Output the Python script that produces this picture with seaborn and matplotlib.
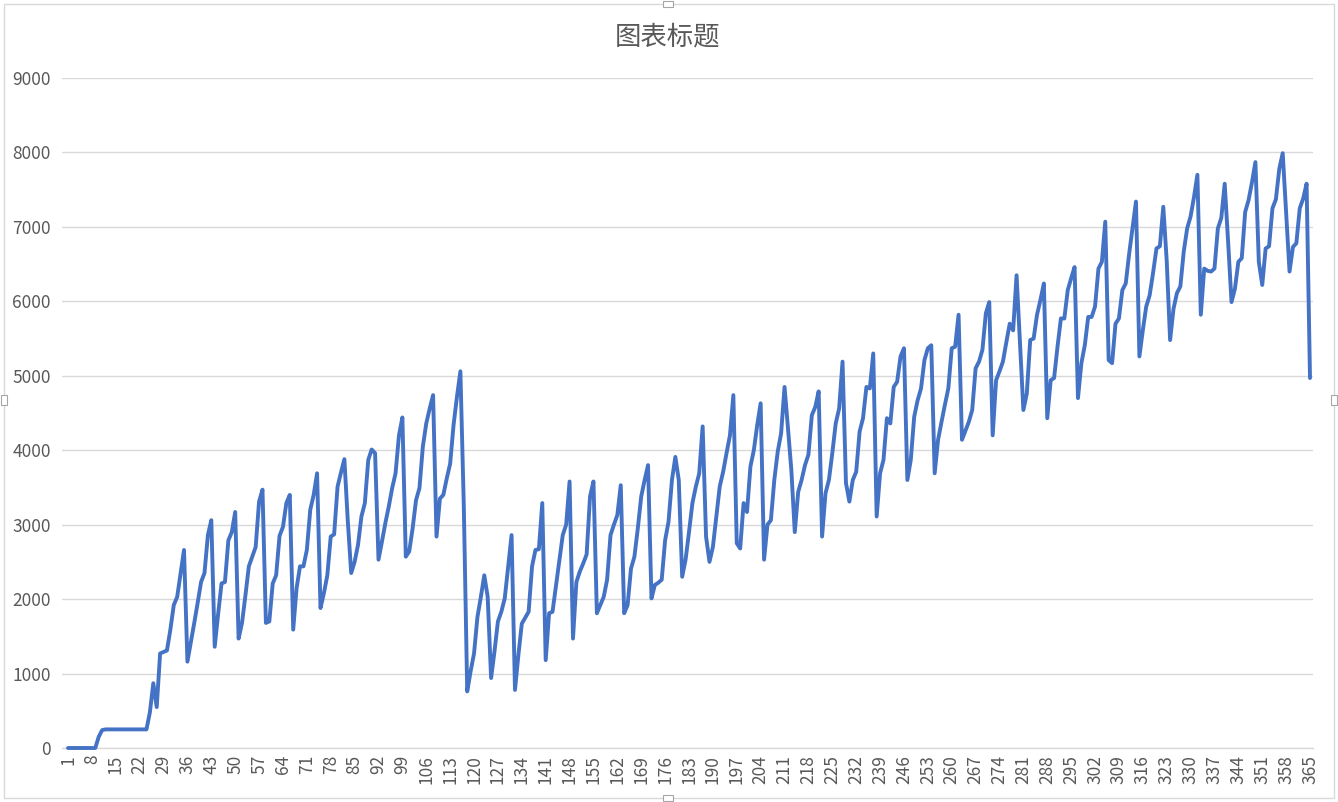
import numpy as np
import pandas as pd
import seaborn as sns
import matplotlib.pyplot as plt
from matplotlib.patches import Rectangle

sns.set_theme(style="white")
plt.rcParams['font.family'] = ['Noto Sans CJK SC', 'DejaVu Sans']

title_text = "图表标题"

values = [
    0, 0, 0, 0, 0, 0, 0, 0, 0, 150,
    240, 250, 250, 250, 250, 250, 250, 250, 250, 250,
    250, 250, 250, 250, 480, 870, 550, 1270, 1290, 1310,
    1590, 1920, 2030, 2350, 2660, 1160, 1420, 1680, 1950, 2230,
    2350, 2860, 3060, 1360, 1800, 2210, 2230, 2790, 2900, 3170,
    1470, 1680, 2050, 2440, 2570, 2700, 3310, 3470, 1680, 1700,
    2210, 2320, 2850, 2970, 3290, 3400, 1590, 2150, 2440, 2440,
    2660, 3200, 3400, 3690, 1880, 2080, 2320, 2840, 2870, 3510,
    3700, 3880, 3050, 2350, 2500, 2730, 3110, 3290, 3870, 4010,
    3960, 2530, 2770, 3020, 3240, 3490, 3690, 4200, 4440, 2570,
    2640, 2950, 3330, 3490, 4050, 4360, 4560, 4740, 2840, 3350,
    3400, 3620, 3820, 4340, 4720, 5060, 3250, 760, 1030, 1270,
    1760, 2030, 2320, 2030, 940, 1300, 1700, 1830, 2010, 2430,
    2860, 780, 1250, 1670, 1750, 1830, 2440, 2660, 2670, 3290,
    1180, 1810, 1830, 2170, 2500, 2860, 3000, 3580, 1470, 2230,
    2370, 2480, 2600, 3380, 3580, 1810, 1920, 2030, 2260, 2860,
    3000, 3130, 3530, 1810, 1920, 2410, 2570, 2950, 3380, 3600,
    3800, 2010, 2190, 2220, 2260, 2790, 3040, 3600, 3910, 3600,
    2300, 2530, 2900, 3290, 3510, 3690, 4320, 2840, 2500, 2700,
    3100, 3510, 3710, 3960, 4200, 4740, 2750, 2680, 3290, 3170,
    3780, 4000, 4340, 4630, 2530, 3000, 3060, 3600, 3980, 4230,
    4850, 4300, 3730, 2900, 3440, 3600, 3800, 3940, 4470, 4580,
    4790, 2840, 3420, 3600, 3960, 4360, 4560, 5190, 3560, 3310,
    3600, 3710, 4250, 4430, 4850, 4830, 5300, 3110, 3690, 3870,
    4430, 4360, 4850, 4920, 5260, 5370, 3600, 3870, 4450, 4670,
    4830, 5210, 5370, 5410, 3690, 4140, 4380, 4610, 4830, 5370,
    5390, 5820, 4140, 4260, 4380, 4540, 5100, 5190, 5350, 5840,
    5990, 4200, 4940, 5060, 5190, 5450, 5700, 5610, 6350, 5450,
    4540, 4760, 5480, 5500, 5820, 6020, 6240, 4430, 4940, 4970,
    5390, 5770, 5770, 6150, 6310, 6460, 4700, 5170, 5410, 5790,
    5790, 5930, 6440, 6530, 7070, 5210, 5170, 5700, 5770, 6150,
    6240, 6640, 6990, 7340, 5260, 5610, 5930, 6080, 6380, 6710,
    6740, 7270, 6550, 5480, 5900, 6110, 6200, 6670, 6980, 7140,
    7400, 7700, 5820, 6440, 6410, 6400, 6440, 6980, 7120, 7580,
    6800, 5990, 6170, 6530, 6580, 7200, 7360, 7600, 7870, 6530,
    6220, 6710, 6740, 7250, 7370, 7780, 7990, 7200, 6400, 6730,
    6780, 7250, 7380, 7580, 4970,
]
days = list(range(1, len(values) + 1))
tick_days = list(range(1, len(values) + 1, 7))
tick_labels = [str(d) for d in tick_days]
y_ticks = list(range(0, 9001, 1000))

W, H = 1338, 802
fig = plt.figure(figsize=(W / 100, H / 100), dpi=100)
fig.patch.set_facecolor('white')

left_px, right_px, top_px, bottom_px = 62, 1313, 78, 748
ax = fig.add_axes([left_px / W, 1 - bottom_px / H,
                   (right_px - left_px) / W, (bottom_px - top_px) / H])

df = pd.DataFrame({'day': days, 'value': values})
sns.lineplot(data=df, x='day', y='value', ax=ax, color='#4472C4',
             linewidth=2.8, solid_joinstyle='round', solid_capstyle='round',
             clip_on=False, zorder=3)

step = 3.412
ax.set_xlim(1 - (68 - left_px) / step, len(values) + (right_px - 1310) / step)
ax.set_ylim(0, 9000)
ax.set_yticks(y_ticks)
ax.set_yticklabels([str(v) for v in y_ticks])
ax.yaxis.grid(True, color='#D9D9D9', linewidth=1.0, zorder=0)
ax.xaxis.grid(False)
ax.set_xticks(tick_days)
ax.set_xticklabels(tick_labels, rotation=90)
ax.tick_params(axis='both', length=0, colors='#595959', labelsize=12.5)
ax.tick_params(axis='y', pad=8)
ax.tick_params(axis='x', pad=5)
for s in ['left', 'right', 'top']:
    ax.spines[s].set_visible(False)
ax.spines['bottom'].set_color('#D9D9D9')
ax.spines['bottom'].set_linewidth(1.0)
ax.set_xlabel('')
ax.set_ylabel('')

fig.text(668 / W, 1 - 37 / H, title_text, ha='center', va='center',
         fontsize=19, color='#595959')

# chart-area border
fig.patches.append(Rectangle((4 / W, 4 / H), (W - 8) / W, (H - 8) / H,
                             transform=fig.transFigure, fill=False,
                             edgecolor='#D9D9D9', linewidth=1.0))
# small selection handles at the middle of each edge
for cx, cy, w, h in [(668, 4, 10, 6), (668, 798, 10, 6),
                     (4, 400, 6, 10), (1334, 400, 6, 10)]:
    fig.patches.append(Rectangle(((cx - w / 2) / W, 1 - (cy + h / 2) / H), w / W, h / H,
                                 transform=fig.transFigure, facecolor='white',
                                 edgecolor='#A6A6A6', linewidth=0.8, zorder=5))

fig.savefig('out.png', dpi=100, facecolor='white')
